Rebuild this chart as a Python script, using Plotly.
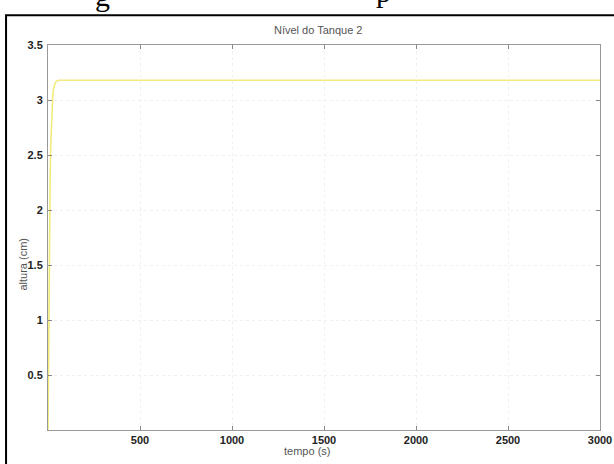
import plotly.graph_objects as go

# data
tempo = [0, 2, 4, 6, 8, 10, 12, 15, 18, 22, 26, 30, 35, 40, 50, 60, 80, 100, 3000]
altura = [0, 0.55, 1.05, 1.45, 1.8, 2.1, 2.35, 2.6, 2.78, 2.94, 3.04, 3.1, 3.14, 3.16, 3.175, 3.18, 3.18, 3.18, 3.18]
x_ticks = [500, 1000, 1500, 2000, 2500, 3000]
y_ticks = [0.5, 1, 1.5, 2, 2.5, 3, 3.5]
y_tick_text = ["0.5", "1", "1.5", "2", "2.5", "3", "3.5"]

fig = go.Figure()
fig.add_trace(go.Scatter(x=tempo, y=altura, mode="lines",
                         line=dict(color="#f2ea7a", width=1.6),
                         showlegend=False, hoverinfo="skip"))

tickfont = dict(family="Liberation Sans, Arial, sans-serif", size=11, color="#222", weight="bold")
common = dict(ticks="inside", ticklen=4, tickcolor="#888", showline=True, linecolor="#999",
              linewidth=1, mirror="ticks", showgrid=True, gridcolor="#f0f0f0", griddash="dot",
              zeroline=False, tickfont=tickfont, automargin=False)
fig.update_xaxes(range=[0, 3000], tickvals=x_ticks, ticktext=[str(v) for v in x_ticks], **common)
fig.update_yaxes(range=[0, 3.5], tickvals=y_ticks, ticktext=y_tick_text,
                 ticklabelstandoff=2, **common)

ann_font = dict(family="Liberation Sans, Arial, sans-serif", size=11, color="#555")
annotations = [
    dict(text="Nível do Tanque 2", x=0.49, y=1.04, xref="paper", yref="paper",
         showarrow=False, font=ann_font, xanchor="center", yanchor="middle"),
    dict(text="altura (cm)", x=-0.045, y=0.43, xref="paper", yref="paper", textangle=-90,
         showarrow=False, font=ann_font, xanchor="center", yanchor="middle"),
    dict(text="tempo (s)", x=0.47, y=-0.055, xref="paper", yref="paper",
         showarrow=False, font=ann_font, xanchor="center", yanchor="middle"),
    dict(text="g", x=0.098, y=1.080, xref="paper", yref="paper", showarrow=False,
         font=dict(family="Liberation Serif, serif", size=30, color="#000"),
         xanchor="center", yanchor="bottom"),
    dict(text="p", x=0.608, y=1.091, xref="paper", yref="paper", showarrow=False,
         font=dict(family="Liberation Serif, serif", size=30, color="#000"),
         xanchor="center", yanchor="bottom"),
]

fig.update_layout(
    width=614, height=464,
    margin=dict(l=48, r=14, t=45, b=34),
    paper_bgcolor="white", plot_bgcolor="white",
    annotations=annotations,
    shapes=[dict(type="rect", xref="paper", yref="paper", x0=-0.076, y0=-0.3, x1=1.2, y1=1.077,
                 line=dict(color="black", width=2), layer="above")],
)

fig.write_html("out.html", config={"displayModeBar": False},
               post_script="document.body.style.margin='0';")
